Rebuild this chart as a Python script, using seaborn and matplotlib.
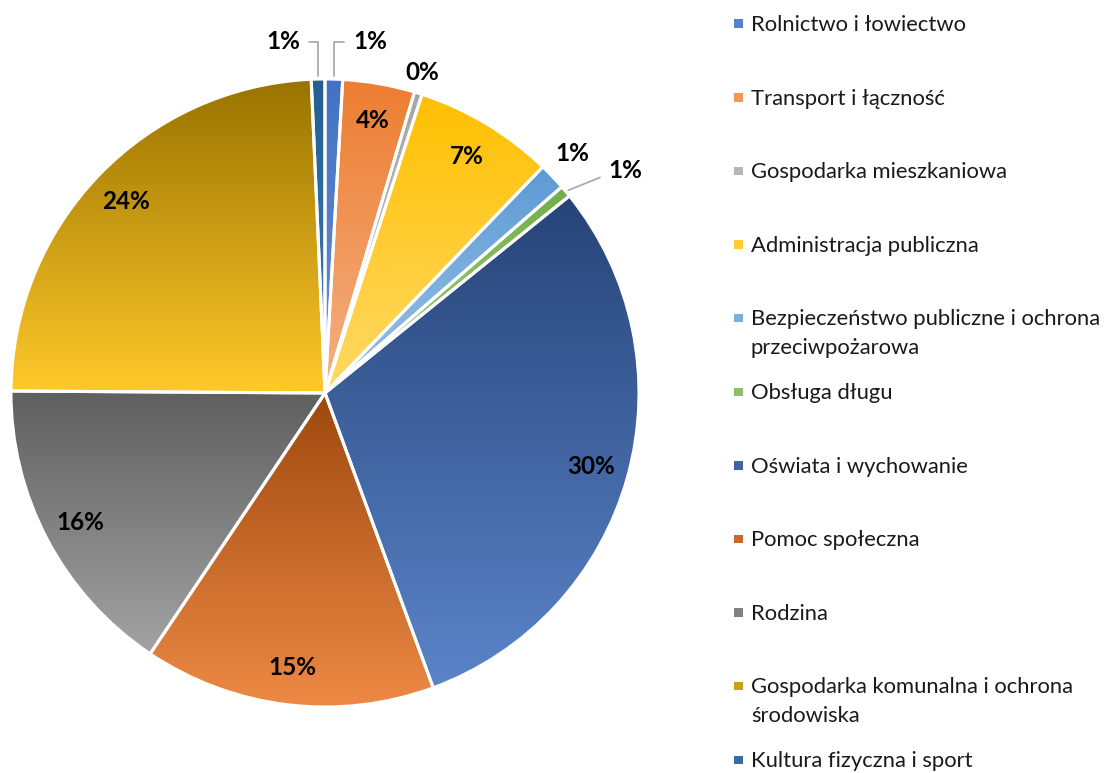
import numpy as np
import matplotlib
matplotlib.use("Agg")
import matplotlib.pyplot as plt
import seaborn as sns
from matplotlib.colors import to_rgb
from matplotlib.patches import Rectangle

# ---- data ----
categories = [
    "Rolnictwo i łowiectwo",
    "Transport i łączność",
    "Gospodarka mieszkaniowa",
    "Administracja publiczna",
    "Bezpieczeństwo publiczne i ochrona\nprzeciwpożarowa",
    "Obsługa długu",
    "Oświata i wychowanie",
    "Pomoc społeczna",
    "Rodzina",
    "Gospodarka komunalna i ochrona\nśrodowiska",
    "Kultura fizyczna i sport",
]
shares = [0.9, 3.7, 0.4, 7.2, 1.4, 0.6, 30.2, 15.0, 15.7, 24.2, 0.7]

# gradient colours (top -> bottom of each slice)
top_colors = ["#4472C4", "#ED7D31", "#A5A5A5", "#FFC000", "#5B9BD5", "#70AD47",
              "#264478", "#9E480E", "#5F5F5F", "#997300", "#255E91"]
bottom_colors = ["#6A8FD6", "#F4B183", "#C9C9C9", "#FFD966", "#9DC3E6", "#A9D18E",
                 "#5B84C9", "#EE8A45", "#A3A3A3", "#FFC92A", "#3F7DB8"]

# which labels sit outside (with offsets in points) and which get a leader line
outside_offsets = {0: (26, 27), 2: (3, 15), 4: (14, 17), 5: (43, 15), 10: (-25, 27)}
leader_styles = {0: "angle,angleA=0,angleB=90",
                 10: "angle,angleA=0,angleB=90",
                 5: "angle,angleA=0,angleB=22"}

sns.set_theme(style="white")
plt.rcParams["font.family"] = ["Lato", "DejaVu Sans"]

fig = plt.figure(figsize=(11.05, 7.73), dpi=100)
ax = fig.add_axes([11 / 1105, 66 / 773, 628 / 1105, 628 / 773])

wedges, _ = ax.pie(shares, startangle=90, counterclock=False, radius=1.0,
                   colors=top_colors,
                   wedgeprops=dict(edgecolor="white", linewidth=2.2))

for w, c1, c2 in zip(wedges, top_colors, bottom_colors):
    verts = w.get_path().vertices
    xmin, ymin = verts.min(axis=0)
    xmax, ymax = verts.max(axis=0)
    t = np.linspace(0, 1, 256)[:, None]
    a, b = np.array(to_rgb(c1)), np.array(to_rgb(c2))
    grad = (a[None, :] * (1 - t) + b[None, :] * t)[:, None, :]
    im = ax.imshow(grad, extent=[xmin, xmax, ymin, ymax], origin="upper",
                   aspect="auto", interpolation="bilinear", zorder=1)
    im.set_clip_path(w)
    w.set_facecolor("none")
    w.set_zorder(2)

label_fs = 17.5
total = sum(shares)
for i, (w, v) in enumerate(zip(wedges, shares)):
    label = f"{v / total * 100:.0f}%"
    mid = np.deg2rad((w.theta1 + w.theta2) / 2)
    if i in outside_offsets:
        xy = (np.cos(mid), np.sin(mid))
        arrow = None
        if i in leader_styles:
            arrow = dict(arrowstyle="-", color="#A6A6A6", lw=1.2,
                         connectionstyle=leader_styles[i], shrinkA=4, shrinkB=2)
        ax.annotate(label, xy=xy, xytext=outside_offsets[i], textcoords="offset points",
                    ha="center", va="center", fontsize=label_fs, fontweight="bold",
                    color="black", arrowprops=arrow, zorder=5)
    else:
        r = 0.88
        ax.text(r * np.cos(mid), r * np.sin(mid), label, ha="center", va="center",
                fontsize=label_fs, fontweight="bold", color="black", zorder=5)

ax.set_xlim(-1, 1)
ax.set_ylim(-1, 1)
ax.set_aspect("equal")
ax.axis("off")

# ---- legend (fixed pitch, like the original) ----
W, H = 1105, 773
first_y, pitch, line_gap = 23.5, 73.6, 29
for i, (lab, c1, c2) in enumerate(zip(categories, top_colors, bottom_colors)):
    yc = first_y + i * pitch
    mix = (np.array(to_rgb(c1)) + np.array(to_rgb(c2))) / 2
    fig.patches.append(Rectangle((734 / W, 1 - (yc + 4.5) / H), 8.5 / W, 8.5 / H,
                                 transform=fig.transFigure, facecolor=mix,
                                 edgecolor="none"))
    for k, line in enumerate(lab.split("\n")):
        fig.text(751 / W, 1 - (yc + 7.5 + k * line_gap) / H, line, ha="left",
                 va="baseline", fontsize=15.8, color="#1a1a1a")

fig.savefig("out.png", dpi=100, facecolor="white")
